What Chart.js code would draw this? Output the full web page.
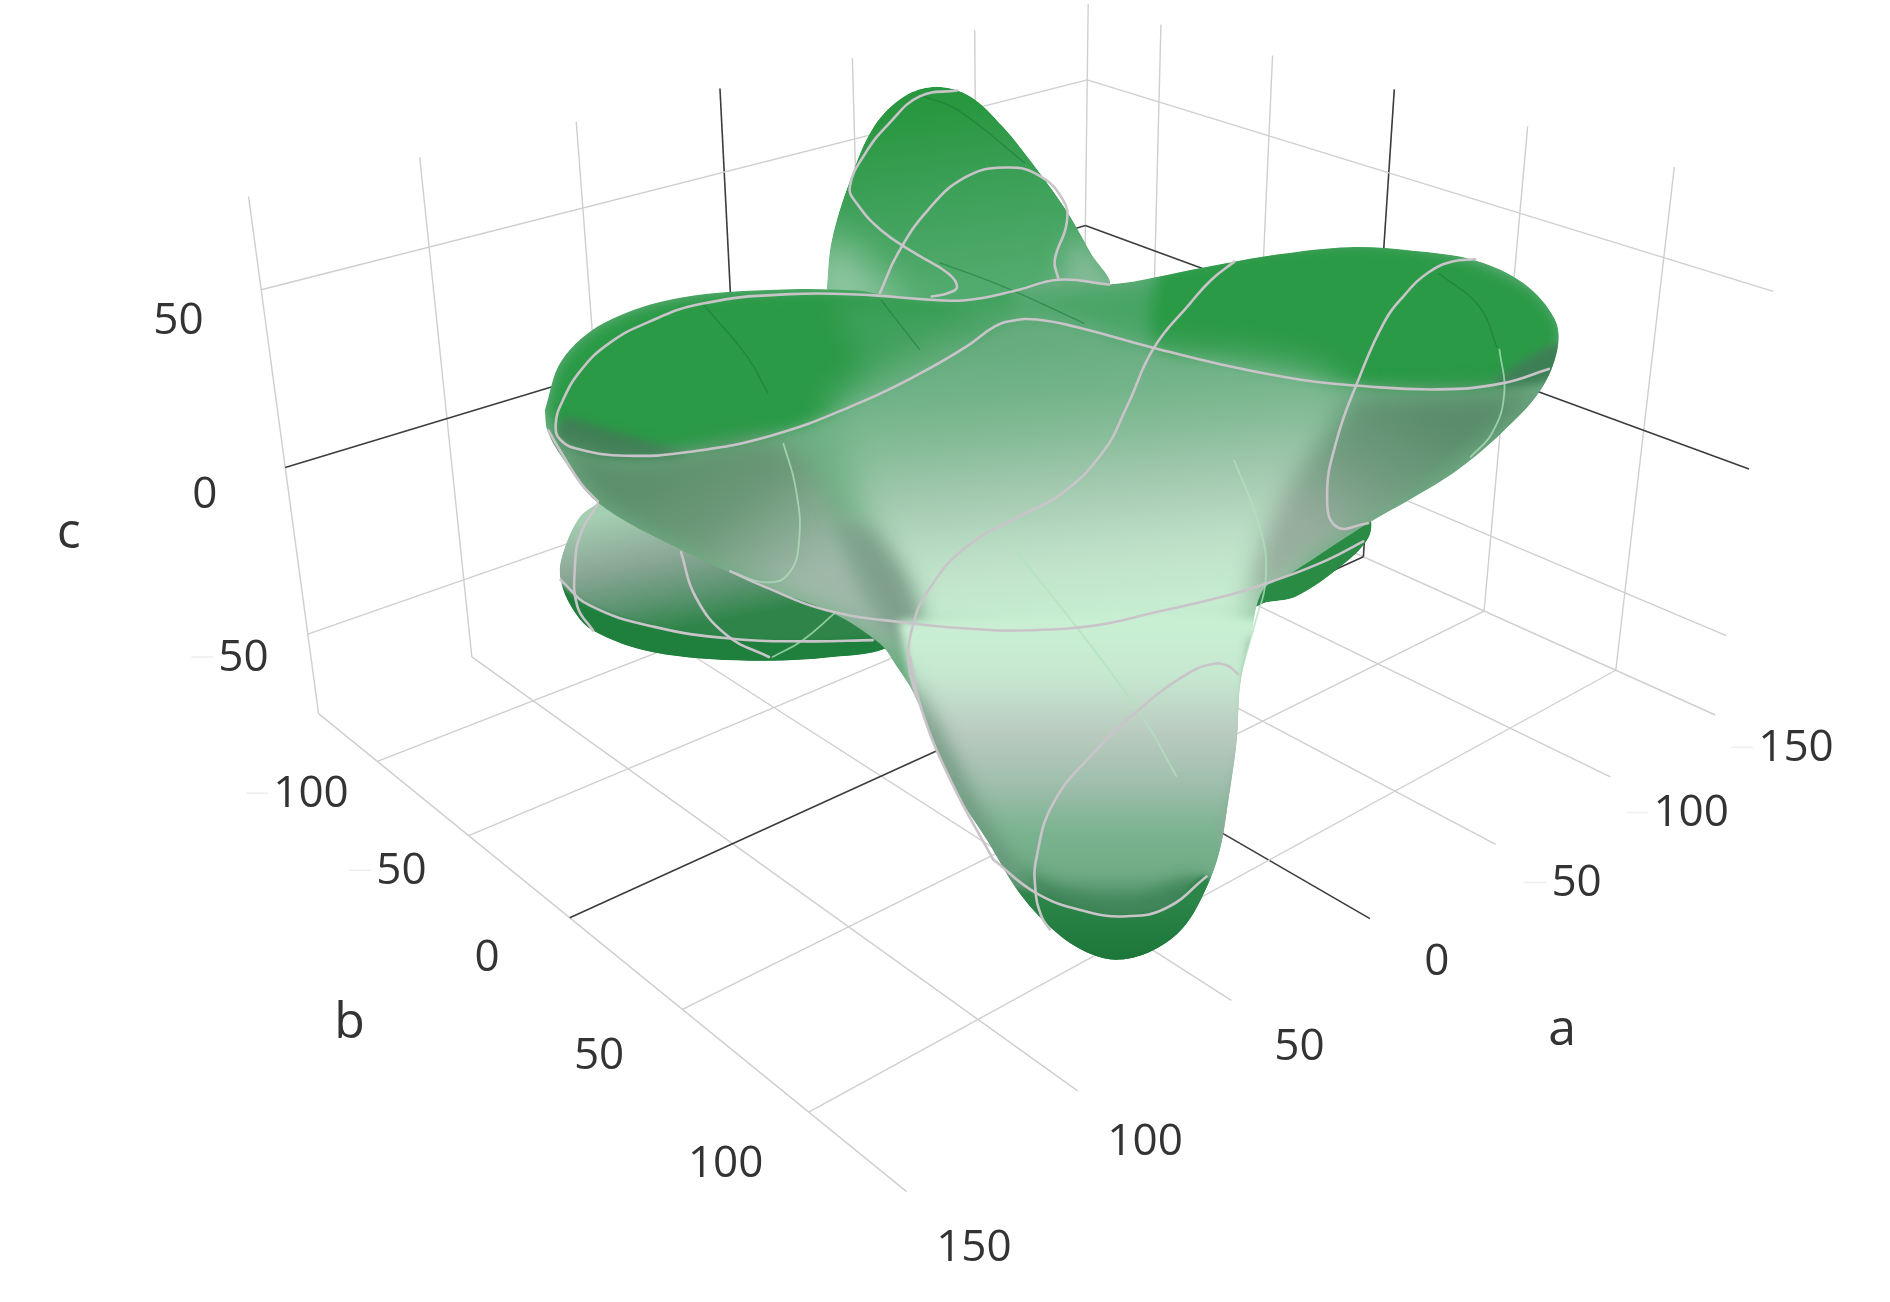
<!DOCTYPE html>
<html><head><meta charset="utf-8">
<style>html,body{margin:0;padding:0;background:#fff}canvas{display:block}</style>
<script src="https://cdn.jsdelivr.net/npm/chart.js@4/dist/chart.umd.min.js"></script>
</head><body><canvas id="c" width="1890" height="1302"></canvas>
<script>
// ---- axis data
const aTicks=[-150,-100,-50,0,50,100,150];
const bTicks=[-100,-50,0,50,100];
const cTicks=[-50,0,50];
const aRange=[-150,150], bRange=[-135,135], cRange=[-75,75];
// ---- tick labels: [text, x, y, negative]
const cTickLabels=[["50",148,267,0],["0",170,411,0],["50",202,546,1]];
const bTickLabels=[["100",258,659,1],["50",333,723,1],["0",404,795,0],["50",497,876,0],["100",602,966,0]];
const aTickLabels=[["150",1490,621,1],["100",1403,675,1],["50",1308,733,1],["0",1192,798,0],["50",1078,869,0],["100",950,948,0],["150",808,1036,0]];
const axisTitles=[["c",57,443],["b",290,849],["a",1296,855]];
// ---- scene reference points: [a,b,c,x,y]
const cameraPoints=[[150,-135,75,207,162],[150,-135,50,217,245],[150,-135,0,235,387],[150,-135,-50,255,522],[150,-135,-75,265,592],
[100,-135,75,348,130],[100,-135,-75,392,547],[0,-135,75,597,72],[-150,-135,50,901,70],[-150,-135,0,900,185],
[-150,135,50,1470,243],[-150,135,0,1450,387],[-150,135,-50,1432,520],[-150,100,75,1392,140],[-150,100,-75,1343,558],
[-150,0,75,1157,72],[-150,0,-75,1133,463],[150,135,-75,752,988],[-150,135,-75,1420,597],[150,0,-75,472,761],[0,135,-75,1135,762],
[150,100,-75,672,925],[150,-100,-75,313,630],[150,50,-75,567,838]];
// ---- surface outlines
const backLobe=[[686,240],[690,200],[705,150],[725,105],[750,80],[777,72],[805,80],[832,105],[860,140],[885,175],[905,210],[920,238],[860,262],[760,262],[686,240]];
const lowLeftLobe=[[496,417],[480,430],[466,462],[465,481],[475,505],[492,523],[542,541],[622,548],[690,545],[740,535],[765,500],[700,470],[600,430],[540,415],[496,417]];
const lowRightLobe=[[1030,480],[1135,430],[1136,445],[1116,467],[1075,495],[1049,500],[1030,506],[1030,480]];
const body=[[452,340],[466,299],[501,268],[564,247],[655,240],[711,241],[729,244],[780,250],[833,243],[878,232],[920,236],[998,222],[1061,211],[1120,205],[1172,208],[1224,216],[1264,235],[1290,265],[1292,290],[1278,324],[1246,359],[1209,390],[1172,413],[1135,434],[1072,475],[1048,489],[1037,531],[1029,567],[1026,614],[1019,664],[1012,705],[1001,736],[982,769],[957,788],[929,796],[904,791],[877,774],[846,741],[819,697],[794,658],[777,620],[758,575],[744,553],[730,534],[692,509],[634,487],[565,456],[496,417],[466,379],[454,357],[452,340]];
// ---- colour ramps: {from,to,stops}
const backRamp={from:[770,90],to:[790,240],stops:[[0,"#28973f"],[0.4,"#3a9f55"],[1,"#52ab6e"]]};
const lowRamp={from:[510,425],to:[530,528],stops:[[0,"#a5cfb2"],[0.42,"#8ba796"],[0.75,"#5c9471"],[1,"#2f8549"]]};
const centreRamp={from:[850,268],to:[872,522],stops:[[0,"#5fa878"],[0.3,"#7ab78f"],[0.55,"#a4c9b0"],[0.75,"#bee0c8"],[1,"#c9efd3"]]};
const leftUnderRamp={from:[565,372],to:[650,490],stops:[[0,"#5c8e6c"],[0.45,"#6b9878"],[1,"#9fb8a8"]]};
const rightUnderRamp={from:[1175,335],to:[1105,445],stops:[[0,"#5a8c6b"],[0.5,"#6f9a7e"],[1,"#96ad9c"]]};
const pillarRamp={from:[900,520],to:[900,770],stops:[[0,"#c9efd3"],[0.16,"#c6e8d0"],[0.36,"#b9cabf"],[0.52,"#9fbfac"],[0.68,"#7bb390"],[0.82,"#6fab85"],[0.9,"#4f9068"],[1,"#26793f"]]};
const toeRamp={from:[925,745],to:[925,796],stops:[[0,"#2c8549"],[1,"#1d7739"]]};
// ---- shading patches: [part, outline, colour, softness]
const shades=[
 ["back",backLobe.slice(0,-1),backRamp,0],
 ["back",[[665,262],[684,195],[720,222],[750,262]],"#92c7a3",20],
 ["back",[[890,190],[935,250],[880,262]],"#82ba96",12],
 ["low",lowLeftLobe.slice(0,-1),lowRamp,0],
 ["low",[[460,481],[489,502],[543,520],[609,530],[670,532],[735,531],[745,560],[460,560]],"#1f7f3c",2],
 ["lowr",lowRightLobe.slice(0,-1),"#2a8b45",0],
 ["body",body.slice(0,-1),"#6fb085",0],
 ["body",[[452,340],[466,299],[501,268],[564,247],[655,240],[730,243],[790,250],[840,243],[826,270],[801,288],[763,310],[711,335],[641,361],[571,375],[519,378],[477,371]],"#2a9a46",7],
 ["body",[[690,250],[790,250],[840,243],[826,270],[801,288],[763,310],[730,325]],"#3fa05b",14],
 ["body",[[790,250],[920,236],[1000,225],[955,288],[892,271],[854,265],[826,270]],"#47a565",12],
 ["body",[[960,225],[1061,205],[1172,205],[1264,235],[1295,280],[1250,318],[1194,323],[1127,320],[1079,315],[1016,303],[957,289]],"#2a9a46",7],
 ["body",[[1240,314],[1295,284],[1292,312],[1245,322]],"#3d7f55",4],
 ["body",[[468,345],[530,364],[570,378],[500,380],[462,362]],"#3f7f55",5],
 ["body",[[690,330],[830,268],[950,290],[1110,322],[1090,420],[1048,500],[1030,530],[760,530],[730,480]],centreRamp,18],
 ["body",[[455,362],[520,382],[640,365],[670,385],[700,440],[745,530],[690,509],[634,487],[565,456],[496,417]],leftUnderRamp,12],
 ["body",[[1125,330],[1250,325],[1280,325],[1172,413],[1135,434],[1075,470],[1040,500],[1060,420]],rightUnderRamp,12],
 ["body",[[692,430],[725,442],[762,500],[755,540],[730,515]],"#7f9f8b",10],
 ["body",[[745,515],[1050,515],[1034,560],[1030,780],[830,780],[770,620]],pillarRamp,4],
 ["body",[[745,550],[775,600],[815,680],[860,750],[822,712],[762,600]],"#5f8a70",10],
 ["body",[[1036,530],[1030,620],[1012,700],[1025,700],[1048,530]],"#8eab99",5],
 ["body",[[845,718],[880,738],[935,748],[990,728],[1003,745],[935,762],[870,755]],"#3f8558",8],
 ["body",[[828,735],[860,741],[901,756],[935,760],[968,753],[1001,727],[1018,805],[850,810]],toeRamp,2]
];
// ---- thin curves on the surface
const paleCurves=[
 [[835,448],[893,520],[948,595],[976,644]],
 [[1024,382],[1046,440],[1050,481],[1042,514],[1029,559]],
 [[1244,290],[1248,326],[1238,359],[1220,379]],
 [[650,368],[660,404],[663,448],[654,476],[635,483],[606,474]],
 [[692,509],[666,531],[641,545]]
];
const darkCurves=[
 [[583,252],[620,296],[637,326]],
 [[731,249],[763,290]],
 [[766,80],[794,91],[850,135]],
 [[780,218],[833,238],[899,268]],
 [[1194,227],[1227,254],[1242,288]]
];
const contours=[
 [[794,75],[763,80],[738,102],[718,127],[705,155],[711,169],[731,191],[759,210],[787,227],[794,238],[787,243],[773,246]],
 [[730,243],[745,210],[770,174],[801,147],[833,139],[861,145],[882,166],[885,185],[875,216],[878,231]],
 [[920,236],[878,232],[843,241],[801,249],[763,248],[725,245],[655,244],[582,252],[536,268],[505,285],[482,307],[467,332],[461,352],[465,365],[482,373],[519,378],[571,375],[641,361],[711,335],[763,310],[801,288],[825,271],[840,266],[860,265],[892,271],[955,288],[1016,303],[1079,315],[1127,320],[1194,323],[1246,318],[1285,306]],
 [[1224,215],[1205,217],[1185,226],[1165,245],[1148,268],[1127,315],[1109,365],[1101,412],[1109,437],[1135,434]],
 [[1024,217],[1005,232],[987,252],[957,289],[935,337],[915,375],[880,410],[844,429],[800,455],[770,490],[757,520],[754,550],[760,578]],
 [[606,474],[635,487],[685,506],[755,517],[812,522],[846,523],[907,519],[962,507],[1018,494],[1059,481],[1100,465],[1131,449]],
 [[455,357],[466,376],[482,401],[496,416]],
 [[496,418],[482,442],[477,470],[479,503],[492,523]],
 [[465,481],[489,502],[543,520],[609,530],[670,532],[724,531]],
 [[565,458],[577,495],[603,527],[638,545]],
 [[1027,559],[1018,552],[1005,551],[985,559],[948,586],[907,625],[874,666],[860,711],[859,738],[864,760],[871,771]],
 [[824,713],[860,741],[901,756],[935,760],[968,753],[1001,727]],
 [[755,545],[765,590],[790,650],[824,713]]
];

// ---- camera fitted to the reference points
function solve(A,B){const n=B.length;for(let i=0;i<n;i++){let p=i;for(let r=i+1;r<n;r++)if(Math.abs(A[r][i])>Math.abs(A[p][i]))p=r;[A[i],A[p]]=[A[p],A[i]];[B[i],B[p]]=[B[p],B[i]];
 for(let r=i+1;r<n;r++){const f=A[r][i]/A[i][i];for(let k=i;k<n;k++)A[r][k]-=f*A[i][k];B[r]-=f*B[i];}}
 const x=new Array(n);for(let i=n-1;i>=0;i--){let s=B[i];for(let k=i+1;k<n;k++)s-=A[i][k]*x[k];x[i]=s/A[i][i];}return x;}
function fitCamera(pts){const N=Array.from({length:11},()=>new Array(11).fill(0)),R=new Array(11).fill(0);
 const add=(row,y)=>{for(let i=0;i<11;i++){R[i]+=row[i]*y;for(let j=0;j<11;j++)N[i][j]+=row[i]*row[j];}};
 for(const [a,b,c,u0,v0] of pts){const X=a/100,Y=b/100,Z=c/100,u=u0/1000,v=v0/1000;
  add([X,Y,Z,1,0,0,0,0,-u*X,-u*Y,-u*Z],u);add([0,0,0,0,X,Y,Z,1,-v*X,-v*Y,-v*Z],v);}
 return solve(N,R);}
const cam=fitCamera(cameraPoints);
function project(a,b,c){const X=a/100,Y=b/100,Z=c/100,w=cam[8]*X+cam[9]*Y+cam[10]*Z+1;
 return {x:1000*(cam[0]*X+cam[1]*Y+cam[2]*Z+cam[3])/w,y:1000*(cam[4]*X+cam[5]*Y+cam[6]*Z+cam[7])/w};}

// ---- datasets in painter's order
const datasets=[];
const GRID="#cfcfcf",ZERO="#3c3c3c";
function gridLine(p,q,zero){datasets.push({data:[project(...p),project(...q)],showLine:true,borderColor:zero?ZERO:GRID,borderWidth:zero?1.6:1.4,pointRadius:0,tension:0});}
const [aMin,aMax]=aRange,[bMin,bMax]=bRange,[cMin,cMax]=cRange;
aTicks.forEach(a=>{gridLine([a,bMin,cMin],[a,bMin,cMax],a===0);gridLine([a,bMin,cMin],[a,bMax,cMin],a===0);});
bTicks.forEach(b=>{gridLine([aMin,b,cMin],[aMin,b,cMax],b===0);gridLine([aMin,b,cMin],[aMax,b,cMin],b===0);});
cTicks.forEach(c=>{gridLine([aMax,bMin,c],[aMin,bMin,c],c===0);gridLine([aMin,bMin,c],[aMin,bMax,c],c===0);});
const toXY=p=>({x:p[0],y:p[1]});
const closed=p=>p.concat([p[0]]);
const clipSets={back:backLobe,low:lowLeftLobe,lowr:lowRightLobe,body:body};
const clipIndex={};
Object.keys(clipSets).forEach(k=>{clipIndex[k]=datasets.length;datasets.push({data:clipSets[k].map(toXY),showLine:true,borderWidth:0,pointRadius:0,tension:0.35});});
shades.forEach(([g,pts,col,blur])=>{datasets.push({data:closed(pts).map(toXY),showLine:true,borderWidth:0,pointRadius:0,tension:0.35,patch:{group:g,color:col,blur}});});
const curve=(pts,col,w)=>datasets.push({data:pts.map(toXY),showLine:true,borderColor:col,borderWidth:w,pointRadius:0,tension:0.45,borderCapStyle:'round'});
darkCurves.forEach(c=>curve(c,"rgba(24,120,55,0.55)",1.4));
paleCurves.forEach(c=>curve(c,"rgba(178,225,190,0.75)",1.8));
contours.forEach(c=>curve(c,"#c9c4c9",2.6));
const labelSet=cTickLabels.concat(bTickLabels,aTickLabels);
datasets.push({data:labelSet.map(l=>({x:l[1],y:l[2]})),showLine:false,pointRadius:0,labelSet:{texts:labelSet,font:'44px "Open Sans"',color:"#333"}});
datasets.push({data:axisTitles.map(l=>({x:l[1],y:l[2]})),showLine:false,pointRadius:0,labelSet:{texts:axisTitles,font:'50px "Open Sans"',color:"#333"}});
datasets.forEach((d,i)=>d.order=-i);

function paint(chart,ctx,c){
 if(typeof c==='string')return c;
 const X=chart.scales.x,Y=chart.scales.y;
 const g=ctx.createLinearGradient(X.getPixelForValue(c.from[0]),Y.getPixelForValue(c.from[1]),X.getPixelForValue(c.to[0]),Y.getPixelForValue(c.to[1]));
 c.stops.forEach(s=>g.addColorStop(s[0],s[1]));
 return g;
}
const surfacePlugin={id:'surface',
 beforeDatasetDraw(chart,args){
  const d=chart.data.datasets[args.index],meta=args.meta,ctx=chart.ctx;
  if(!d.patch)return;
  const clipMeta=chart.getDatasetMeta(clipIndex[d.patch.group]);
  clipMeta.dataset.updateControlPoints(chart.chartArea,'x');
  meta.dataset.updateControlPoints(chart.chartArea,'x');
  ctx.save();
  ctx.beginPath();clipMeta.dataset.path(ctx);ctx.closePath();ctx.clip();
  if(d.patch.blur)ctx.filter='blur('+d.patch.blur+'px)';
  ctx.fillStyle=paint(chart,ctx,d.patch.color);
  ctx.beginPath();meta.dataset.path(ctx);ctx.closePath();ctx.fill();
  ctx.restore();
 },
 afterDatasetDraw(chart,args){
  const d=chart.data.datasets[args.index];
  if(!d.labelSet)return;
  const ctx=chart.ctx;
  ctx.save();ctx.font=d.labelSet.font;ctx.textAlign='center';ctx.textBaseline='middle';
  args.meta.data.forEach((pt,i)=>{const t=d.labelSet.texts[i];
   const w=ctx.measureText(t[0]).width;
   if(t[3]){ctx.fillStyle='#eeeeee';ctx.fillRect(pt.x-w/2-27,pt.y-2,22,1.5);}
   ctx.fillStyle=d.labelSet.color;ctx.fillText(t[0],pt.x,pt.y);});
  ctx.restore();
 }};

new Chart(document.getElementById('c'),{type:'scatter',data:{datasets},plugins:[surfacePlugin],
 options:{responsive:false,animation:false,layout:{padding:0},events:[],
  plugins:{legend:{display:false},tooltip:{enabled:false},title:{display:false}},
  scales:{x:{type:'linear',display:false,min:0,max:1568},y:{type:'linear',display:false,min:0,max:1080,reverse:true}}}});
</script></body></html>
